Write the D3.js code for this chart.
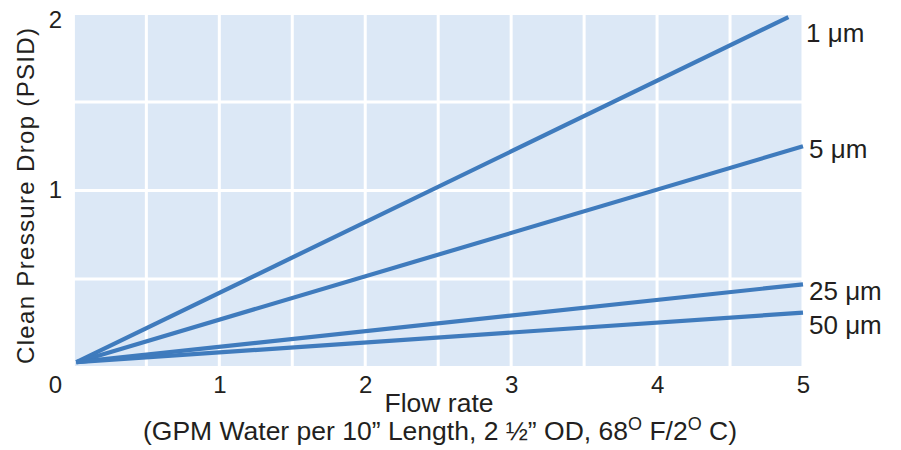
<!DOCTYPE html>
<html>
<head>
<meta charset="utf-8">
<script src="https://cdn.jsdelivr.net/npm/d3@7"></script>
<style>
  body { margin: 0; background: #fff; }
  text { font-family: "Liberation Sans", Arial, sans-serif; fill: #231f20; }
</style>
</head>
<body>
<svg id="chart"></svg>
<script>
// flow rate (GPM) at the two ends of each curve
const series = ["1 \u03bcm", "5 \u03bcm", "25 \u03bcm", "50 \u03bcm"];
const flowStart = [0.02, 0.02, 0.02, 0.02];
const flowEnd = [4.9, 5, 5, 5];
// pressure drop (PSID)
const dropStart = [0.03, 0.03, 0.03, 0.03];
const dropEnd = [1.98, 1.25, 0.47, 0.31];

const xTicks = [1, 2, 3, 4, 5];
const yTicks = [1, 2];
const xGrid = d3.range(0, 5.01, 0.5);
const yGrid = d3.range(0, 2.01, 0.5);

const width = 901, height = 450;
const svg = d3.select("#chart").attr("width", width).attr("height", height);

const x = d3.scaleLinear().domain([0, 5]).range([73.4, 803]);
const y = d3.scaleLinear().domain([0, 2]).range([367.5, 13.5]);

// background + grid
svg.append("rect")
    .attr("x", x(0)).attr("y", y(2))
    .attr("width", x(5) - x(0)).attr("height", y(0) - y(2))
    .attr("fill", "#dce8f6");

svg.append("g").selectAll("line").data(xGrid).join("line")
    .attr("x1", d => x(d)).attr("x2", d => x(d))
    .attr("y1", y(0)).attr("y2", y(2))
    .attr("stroke", "#fff").attr("stroke-width", 3);

svg.append("g").selectAll("line").data(yGrid).join("line")
    .attr("x1", x(0)).attr("x2", x(5))
    .attr("y1", d => y(d)).attr("y2", d => y(d))
    .attr("stroke", "#fff").attr("stroke-width", 3);

// x axis labels
const xAxis = svg.append("g")
    .attr("transform", `translate(0, ${y(0)})`)
    .call(d3.axisBottom(x).tickValues(xTicks).tickSize(0).tickPadding(8).tickFormat(d3.format("d")));
xAxis.select(".domain").remove();
xAxis.selectAll("text").style("font-size", "24px").style("font-family", null).attr("fill", "#231f20");

// y axis labels
const yAxis = svg.append("g")
    .attr("transform", `translate(${x(0) - 12}, 0)`)
    .call(d3.axisLeft(y).tickValues(yTicks).tickSize(0).tickPadding(0).tickFormat(d3.format("d")));
yAxis.select(".domain").remove();
yAxis.selectAll("text")
    .attr("text-anchor", "middle").attr("x", -6)
    .attr("dy", d => d === 2 ? "0.6em" : "0.3em")
    .style("font-size", "24px").style("font-family", null).attr("fill", "#231f20");

// shared origin label
svg.append("text")
    .attr("x", x(0) - 18).attr("y", y(0) + 25)
    .attr("text-anchor", "middle").style("font-size", "24px")
    .text("0");

// curves
const line = d3.line().x(d => x(d[0])).y(d => y(d[1]));
const lines = series.map((s, i) => ({
    name: s,
    pts: [[flowStart[i], dropStart[i]], [flowEnd[i], dropEnd[i]]]
}));

svg.append("g").selectAll("path").data(lines).join("path")
    .attr("d", d => line(d.pts))
    .attr("fill", "none")
    .attr("stroke", "#3f7bbd")
    .attr("stroke-width", 4.2);

// series labels
const labelOffset = [25, 12, 16, 21];
svg.append("g").selectAll("text").data(lines).join("text")
    .attr("x", (d, i) => x(5) + 6 + (i === 0 ? -3 : 0))
    .attr("y", (d, i) => y(d.pts[1][1]) + labelOffset[i])
    .style("font-size", "26px")
    .text(d => d.name);

// axis titles
svg.append("text")
    .attr("x", 439).attr("y", 412)
    .attr("text-anchor", "middle").style("font-size", "26.5px")
    .text("Flow rate");

const sub = svg.append("text")
    .attr("x", 440).attr("y", 440)
    .attr("text-anchor", "middle").style("font-size", "26.5px");
sub.append("tspan").text("(GPM Water per 10\u201d Length, 2 \u00bd\u201d OD, 68");
sub.append("tspan").attr("dy", -10).style("font-size", "18px").text("O");
sub.append("tspan").attr("dy", 10).text(" F/2");
sub.append("tspan").attr("dy", -10).style("font-size", "18px").text("O");
sub.append("tspan").attr("dy", 10).text(" C)");

svg.append("text")
    .attr("transform", "translate(34, 196) rotate(-90)")
    .attr("text-anchor", "middle").style("font-size", "24px")
    .attr("textLength", 336).attr("lengthAdjust", "spacing")
    .text("Clean Pressure Drop (PSID)");
</script>
</body>
</html>
